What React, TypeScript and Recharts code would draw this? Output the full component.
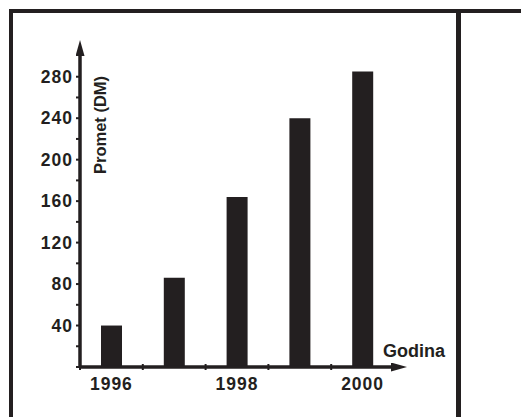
import { BarChart, Bar, XAxis, YAxis, usePlotArea } from 'recharts';

const years = ['1996', '1997', '1998', '1999', '2000'];
const promet = [40, 86, 164, 240, 285];
const yTicks = [0, 20, 40, 60, 80, 100, 120, 140, 160, 180, 200, 220, 240, 260, 280];
const yLabeled = [40, 80, 120, 160, 200, 240, 280];
const xLabeled = ['1996', '1998', '2000'];

const INK = '#231f20';
const FONT = '"Liberation Sans", Arial, sans-serif';

const data = years.map((y, i) => ({ year: y, promet: promet[i] }));

function YTick(props: any) {
    const { x, y, payload } = props;
    if (!yLabeled.includes(payload.value)) return null;
    return (
        <text x={x + 1} y={y + 6} textAnchor="end" fill={INK} fontFamily={FONT} fontWeight="bold" fontSize={17.5} letterSpacing={1}>
            {payload.value}
        </text>
    );
}

function XTick(props: any) {
    const { x, y, payload } = props;
    if (!xLabeled.includes(payload.value)) return null;
    return (
        <text x={x} y={y + 23} textAnchor="middle" fill={INK} fontFamily={FONT} fontWeight="bold" fontSize={17.5} letterSpacing={1}>
            {payload.value}
        </text>
    );
}

// band-boundary ticks on the x axis + axis titles
function Decor() {
    const area = usePlotArea();
    if (!area) return null;
    const band = area.width / years.length;
    const bottom = area.y + area.height;
    return (
        <g>
            {years.map((_, i) => (
                <line
                    key={i}
                    x1={area.x + i * band}
                    x2={area.x + i * band}
                    y1={bottom - 3}
                    y2={bottom + 3}
                    stroke={INK}
                    strokeWidth={2}
                />
            ))}
            <text
                transform={`translate(${area.x + 26},${area.y + 69}) rotate(-90)`}
                textAnchor="middle"
                fill={INK}
                fontFamily={FONT}
                fontWeight="bold"
                fontSize={16.5}
            >
                Promet (DM)
            </text>
            <text x={area.x + area.width - 11} y={bottom - 10} fill={INK} fontFamily={FONT} fontWeight="bold" fontSize={18}>
                Godina
            </text>
        </g>
    );
}

export default function App() {
    return (
        <div style={{ position: 'absolute', left: 0, top: 0, width: 521, height: 417, background: '#fff', overflow: 'hidden' }}>
            <div style={{ position: 'absolute', left: 9, top: 9, width: 512, height: 4, background: INK }} />
            <div style={{ position: 'absolute', left: 9, top: 9, width: 4, height: 408, background: INK }} />
            <div style={{ position: 'absolute', left: 456, top: 9, width: 5, height: 408, background: INK }} />
            <div style={{ position: 'absolute', left: 0, top: 0 }}>
                <BarChart width={521} height={417} data={data} margin={{ top: 56, right: 127, bottom: 20, left: 20 }} barCategoryGap={0}>
                    <defs>
                        <marker id="arrowX" markerUnits="userSpaceOnUse" markerWidth={17} markerHeight={10} refX={3} refY={4.5} orient="auto">
                            <path d="M0,0 L16,4.5 L0,9 Z" fill={INK} />
                        </marker>
                        <marker id="arrowY" markerUnits="userSpaceOnUse" markerWidth={17} markerHeight={10} refX={0} refY={4.5} orient="auto-start-reverse">
                            <path d="M0,0 L16,4.5 L0,9 Z" fill={INK} />
                        </marker>
                    </defs>
                    <XAxis
                        dataKey="year"
                        height={30}
                        interval={0}
                        tickSize={0}
                        tickMargin={0}
                        tickLine={false}
                        tick={<XTick />}
                        axisLine={{ stroke: INK, strokeWidth: 3.5, markerEnd: 'url(#arrowX)' }}
                    />
                    <YAxis
                        width={60}
                        domain={[0, 300]}
                        ticks={yTicks}
                        interval={0}
                        tickSize={4}
                        tickMargin={4}
                        tick={<YTick />}
                        tickLine={{ stroke: INK, strokeWidth: 2 }}
                        axisLine={{ stroke: INK, strokeWidth: 3.5, markerStart: 'url(#arrowY)' }}
                    />
                    <Bar dataKey="promet" fill={INK} barSize={21} isAnimationActive={false} />
                    <Decor />
                </BarChart>
            </div>
        </div>
    );
}
